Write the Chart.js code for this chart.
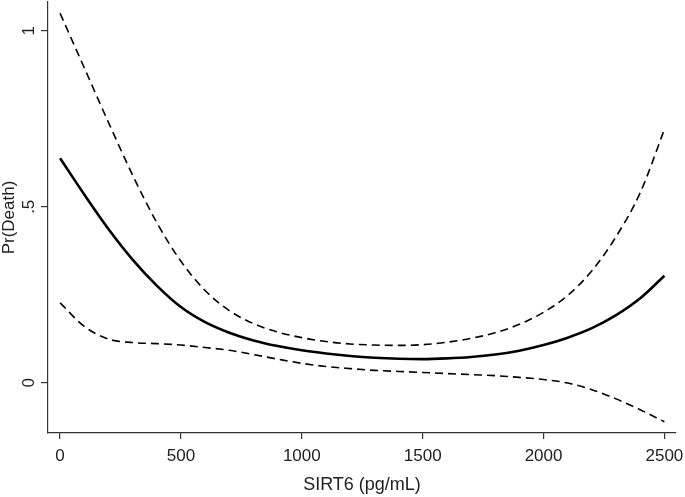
<!DOCTYPE html>
<html>
<head>
<meta charset="utf-8">
<script src="https://cdn.jsdelivr.net/npm/chart.js@4/dist/chart.umd.min.js"></script>
<style>
  body { margin: 0; background: #fff; }
  canvas { display: block; }
</style>
</head>
<body>
<canvas id="death_chart" width="685" height="497"></canvas>
<script>
// SIRT6 (pg/mL) grid the curves were read at
const sirt6 = [0, 100, 200, 300, 400, 500, 600, 700, 800, 900, 1000, 1100, 1200,
    1300, 1400, 1500, 1600, 1700, 1800, 1900, 2000, 2100, 2200, 2300, 2400, 2500];

// predicted probability of death
const prDeath = [0.638, 0.535, 0.437, 0.35, 0.276, 0.215, 0.172, 0.142, 0.12, 0.104, 0.092, 0.083, 0.076,
    0.071, 0.068, 0.067, 0.069, 0.073, 0.08, 0.091, 0.107, 0.128, 0.155, 0.192, 0.24, 0.304];

// 95% CI bounds
const upperCI = [1.05, 0.895, 0.74, 0.59, 0.455, 0.345, 0.262, 0.205, 0.168, 0.144, 0.128, 0.117, 0.11,
    0.107, 0.106, 0.108, 0.115, 0.126, 0.142, 0.166, 0.2, 0.248, 0.318, 0.415, 0.54, 0.72];
const lowerCI = [0.227, 0.16, 0.124, 0.114, 0.111, 0.107, 0.1, 0.092, 0.08, 0.067, 0.055, 0.046, 0.04,
    0.035, 0.032, 0.029, 0.026, 0.023, 0.02, 0.015, 0.009, -0.001, -0.02, -0.046, -0.077, -0.111];

const xTicks = [0, 500, 1000, 1500, 2000, 2500];
const yTicks = [0, 0.5, 1];
const yTickLabels = {0: '0', 0.5: '.5', 1: '1'};

const toPoints = values => sirt6.map((x, i) => ({x: x, y: values[i]}));

const axisColor = '#333';
const textColor = '#222';
const fontFamily = '"Liberation Sans", Arial, Helvetica, sans-serif';

// stata draws the y tick labels turned on their side
const rotatedYLabels = {
    id: 'rotatedYLabels',
    afterDraw(chart) {
        const ctx = chart.ctx;
        const y = chart.scales.y;
        ctx.save();
        ctx.fillStyle = textColor;
        ctx.font = '17px ' + fontFamily;
        ctx.textAlign = 'center';
        ctx.textBaseline = 'middle';
        yTicks.forEach(v => {
            ctx.save();
            ctx.translate(29, y.getPixelForValue(v));
            ctx.rotate(-Math.PI / 2);
            ctx.fillText(yTickLabels[v], 0, 0);
            ctx.restore();
        });
        ctx.restore();
    }
};

const ctx = document.getElementById('death_chart').getContext('2d');
const death_chart = new Chart(ctx, {
    type: 'line',
    data: {
        datasets: [
            {
                label: 'Upper CI',
                data: toPoints(upperCI),
                borderColor: '#000',
                borderWidth: 1.6,
                borderDash: [8, 5],
                pointRadius: 0,
                cubicInterpolationMode: 'monotone'
            },
            {
                label: 'Pr(Death)',
                data: toPoints(prDeath),
                borderColor: '#000',
                borderWidth: 2.6,
                pointRadius: 0,
                cubicInterpolationMode: 'monotone'
            },
            {
                label: 'Lower CI',
                data: toPoints(lowerCI),
                borderColor: '#000',
                borderWidth: 1.6,
                borderDash: [8, 5],
                pointRadius: 0,
                cubicInterpolationMode: 'monotone'
            },
        ]
    },
    options: {
        responsive: false,
        animation: false,
        layout: {
            padding: {top: 2, right: 9, left: 0, bottom: 0}
        },
        plugins: {
            legend: {display: false},
            tooltip: {enabled: false}
        },
        scales: {
            x: {
                type: 'linear',
                min: -50,
                max: 2548,
                afterBuildTicks: scale => { scale.ticks = xTicks.map(v => ({value: v})); },
                afterFit: scale => {
                    scale.height = 64;
                    scale.paddingLeft = 0;
                    scale.paddingRight = 0;
                },
                border: {color: axisColor, width: 1.2},
                grid: {drawOnChartArea: false, drawTicks: true, tickLength: 6, color: axisColor, lineWidth: 1.2},
                ticks: {
                    color: textColor,
                    padding: 7,
                    maxRotation: 0,
                    callback: value => String(value),
                    font: {family: fontFamily, size: 17}
                },
                title: {
                    display: true,
                    text: 'SIRT6 (pg/mL)',
                    color: textColor,
                    padding: {top: 0, bottom: 1.5},
                    font: {family: fontFamily, size: 18}
                }
            },
            y: {
                type: 'linear',
                min: -0.143,
                max: 1.082,
                afterBuildTicks: scale => { scale.ticks = yTicks.map(v => ({value: v})); },
                afterFit: scale => {
                    scale.width = 48;
                    scale.paddingTop = 0;
                    scale.paddingBottom = 0;
                },
                border: {color: axisColor, width: 1.2},
                grid: {drawOnChartArea: false, drawTicks: true, tickLength: 7, color: axisColor, lineWidth: 1.2},
                ticks: {
                    color: 'rgba(0,0,0,0)',
                    font: {family: fontFamily, size: 17}
                },
                title: {
                    display: true,
                    text: 'Pr(Death)',
                    color: textColor,
                    padding: {top: 0.5, bottom: 0},
                    font: {family: fontFamily, size: 17, lineHeight: 1}
                }
            }
        }
    },
    plugins: [rotatedYLabels]
});
</script>
</body>
</html>
